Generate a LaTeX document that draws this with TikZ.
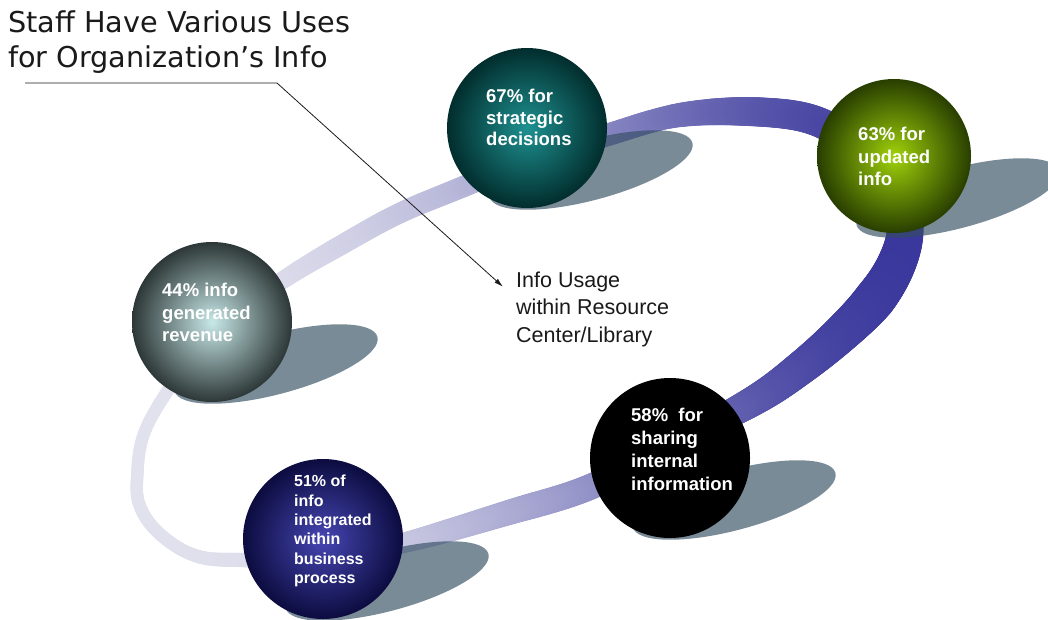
\documentclass[tikz,border=0pt]{standalone}
\usepackage{fontspec}
\setmainfont{Liberation Sans}
\newfontfamily\titlefont{DejaVu Sans}
\usetikzlibrary{arrows.meta,decorations.markings}

\definecolor{bandlight}{RGB}{226,226,238}
\definecolor{banddark}{RGB}{58,56,156}
\definecolor{shadowcol}{RGB}{52,77,98}
\definecolor{inktext}{RGB}{26,26,26}

\tikzset{
  declare function={
    ringrad(\u)=(\u<0.032) ? (6.2+0.3*\u/0.032) : ((\u<0.135) ? (6.5+3.5*(\u-0.032)/0.103) :
      ((\u<0.24) ? (10+(\u-0.135)/0.105) : ((\u<0.32) ? (11+0.5*(\u-0.24)/0.08) :
      ((\u<0.365) ? (11.5+3*(\u-0.32)/0.045) : ((\u<0.44) ? (14.5+(\u-0.365)/0.075) :
      ((\u<0.52) ? (15.5+5.5*(\u-0.44)/0.08) : ((\u<0.553) ? (21-2.5*(\u-0.52)/0.033) :
      ((\u<0.605) ? (18.5-3.5*(\u-0.553)/0.052) : ((\u<0.635) ? (15-2*(\u-0.605)/0.03) :
      ((\u<0.733) ? 13 : ((\u<0.78) ? (13-1.5*(\u-0.733)/0.047) :
      ((\u<0.834) ? (11.5-3*(\u-0.78)/0.054) : ((\u<0.92) ? (8.5-2*(\u-0.834)/0.086) :
      (6.5-0.3*(\u-0.92)/0.08))))))))))))));
  },
  sphere/.style={circle, inner sep=0pt, minimum size=160pt},
  spheretext/.style={anchor=west, inner sep=0pt, align=left, text=white,
    font=\bfseries\fontsize{18.5}{22.5}\selectfont},
  shadowblob/.style={fill=shadowcol, fill opacity=0.65},
  pointer/.style={draw=inktext, line width=0.8pt, -{Latex[length=9pt,width=5pt]}},
  ringband/.style={decorate, decoration={markings,
    mark=between positions 0 and 1 step 2pt with {
      \pgfmathsetmacro\ringf{\pgfkeysvalueof{/pgf/decoration/mark info/distance from start}/\pgfdecoratedpathlength}
      \pgfmathsetmacro\ringc{max((1+cos(360*(\ringf-0.49)))/2,0.001)}
      \pgfmathsetmacro\ringmix{100*\ringc^1.5}
      \pgfmathsetmacro\ringr{ringrad(\ringf)}
      \fill[banddark!\ringmix!bandlight] (0,0) circle[radius=\ringr pt];
    }}}
}

\begin{document}
\begin{tikzpicture}[x=1pt, y=-1pt]
    \fill[white] (0,0) rectangle (1048,619);
    \useasboundingbox (0,0) rectangle (1048,619);

    % Anillo
    \path[ringband] plot[smooth cycle, tension=0.6] coordinates {
      (137,480) (150,420) (215,330) (283,280) (350,240) (400,213) (455,190)
      (530,160) (607,135) (680,115) (760,112) (821,123) (872,160) (900,200)
      (905,233) (895,267) (874,300) (842,333) (802,367) (755,400) (670,445)
      (590,487) (507,513) (407,542) (320,560) (243,560) (200,557) (167,540)
      (143,513)};

    % Centros
    \coordinate (strat-c) at (527,128);
    \coordinate (upd-c) at (894,156);
    \coordinate (rev-c) at (212,322);
    \coordinate (share-c) at (670,458);
    \coordinate (integ-c) at (323,539);

    % Sombras
    \foreach \s in {strat,upd,rev,share,integ} {
      \path (\s-c) ++(64,42) coordinate (\s-sh);
      \fill[shadowblob, rotate around={15:(\s-sh)}] (\s-sh) ellipse (105 and 30);
    }

    % Esferas
    \node[sphere, inner color={rgb,255:red,30;green,145;blue,145},
      outer color={rgb,255:red,2;green,45;blue,45}] (strat) at (strat-c) {};
    \node[sphere, minimum size=154pt, inner color={rgb,255:red,160;green,210;blue,10},
      outer color={rgb,255:red,40;green,62;blue,0}] (upd) at (upd-c) {};
    \node[sphere, inner color={rgb,255:red,200;green,232;blue,232},
      outer color={rgb,255:red,45;green,55;blue,55}] (rev) at (rev-c) {};
    \node[sphere, fill=black] (share) at (share-c) {};
    \node[sphere, inner color={rgb,255:red,70;green,70;blue,180},
      outer color={rgb,255:red,12;green,12;blue,64}] (integ) at (integ-c) {};

    \node[spheretext, font=\bfseries\fontsize{18.5}{21.7}\selectfont] (strat-t)
      at ([shift={(-41,-10.5)}]strat.center) {67\% for\\strategic\\decisions};
    \node[spheretext] (upd-t) at ([shift={(-36,0.5)}]upd.center) {63\% for\\updated\\info};
    \node[spheretext] (rev-t) at ([shift={(-50,-9.5)}]rev.center) {44\% info\\generated\\revenue};
    \node[spheretext, font=\bfseries\fontsize{18.5}{23}\selectfont] (share-t)
      at ([shift={(-39,-8.5)}]share.center) {58\%\ \ for\\sharing\\internal\\information};
    \node[spheretext, font=\bfseries\fontsize{16}{19.3}\selectfont] (integ-t)
      at ([shift={(-29,-8)}]integ.center) {51\% of\\info\\integrated\\within\\business\\process};

    % Titulo y flecha
    \node[anchor=west, inner sep=0pt, align=left, text=inktext,
      font=\titlefont\fontsize{28.7}{35}\selectfont] (title) at (8,42)
      {Staff Have Various Uses\\for Organization’s Info};
    \node[anchor=west, inner sep=0pt, align=left, text=inktext,
      font=\fontsize{21.5}{27.5}\selectfont] (usage) at (516,309)
      {Info Usage\\within Resource\\Center/Library};

    \coordinate (rule-a) at (25,83);
    \coordinate (rule-b) at (277,83);
    \coordinate (usage-tip) at ([shift={(-13,15.5)}]usage.north west);
    \draw[pointer] (rule-a) -- (rule-b) -- (usage-tip);
\end{tikzpicture}
\end{document}
